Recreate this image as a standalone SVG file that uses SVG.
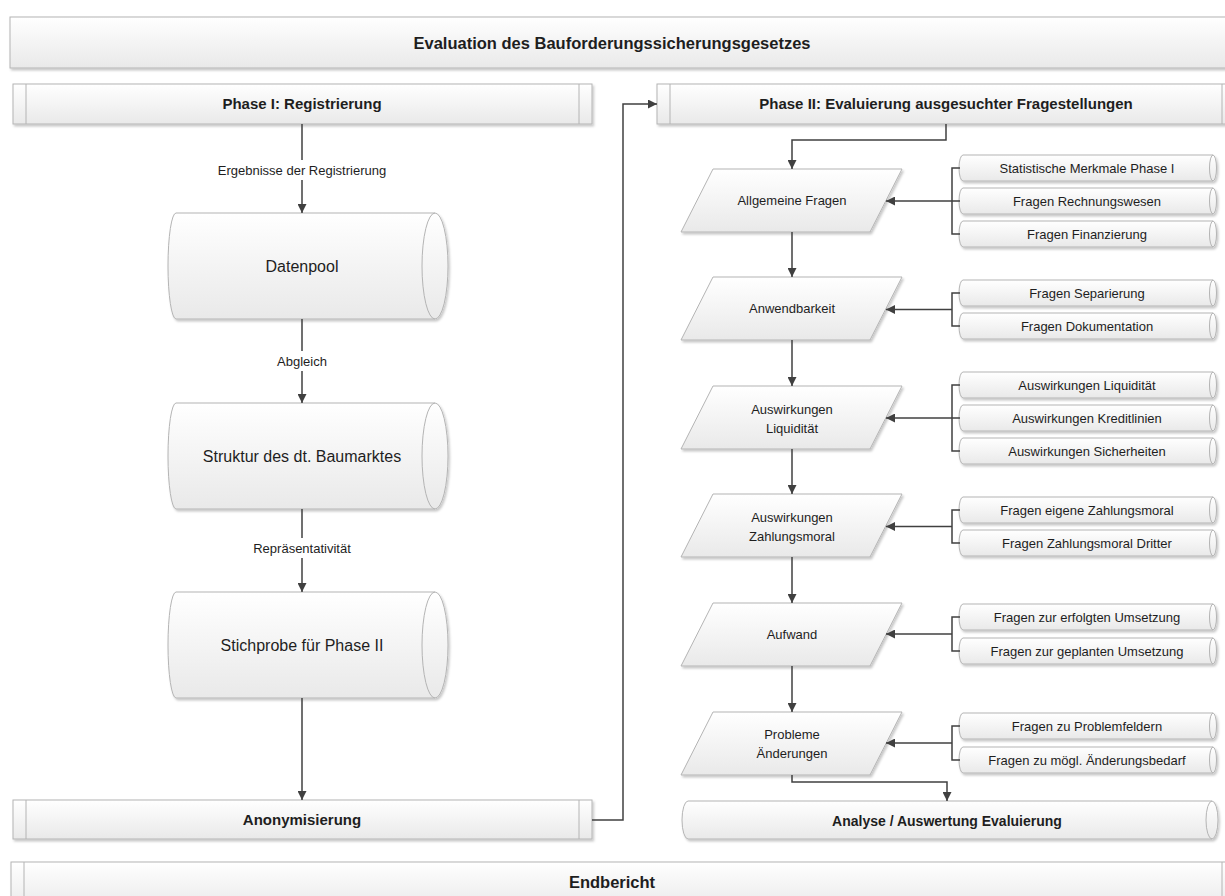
<svg xmlns="http://www.w3.org/2000/svg" width="1225" height="896" viewBox="0 0 1225 896">
<defs>
<linearGradient id="g" x1="0" y1="0" x2="0" y2="1">
<stop offset="0" stop-color="#ffffff"/>
<stop offset="1" stop-color="#e9e9e9"/>
</linearGradient>
<filter id="sh" x="-5%" y="-5%" width="110%" height="130%">
<feDropShadow dx="1.5" dy="2" stdDeviation="1" flood-color="#000" flood-opacity="0.22"/>
</filter>
<marker id="ah" viewBox="0 0 10 10" refX="10" refY="5" markerWidth="6" markerHeight="6" markerUnits="strokeWidth" orient="auto">
<path d="M0,0 L10,5 L0,10 z" fill="#404040"/>
</marker>
</defs>
<style>
.box{fill:url(#g);stroke:#b4b4b4;stroke-width:1;filter:url(#sh)}
.bar{stroke:#b4b4b4;stroke-width:1;fill:none}
.in{stroke:#b4b4b4;stroke-width:1;fill:none}
.c{fill:none;stroke:#404040;stroke-width:1.5}
.a{fill:none;stroke:#404040;stroke-width:1.5;marker-end:url(#ah)}
text{font-family:"Liberation Sans",Arial,sans-serif;fill:#1e1e1e;text-anchor:middle}
.h{font-weight:bold;font-size:15px}
.t{font-weight:bold;font-size:16.5px}
.n{font-size:13px}
.big{font-size:16px}
.lb{font-size:13px}
</style>

<g id="title">
<rect class="box" x="10" y="17" width="1230" height="51"/>
<text class="t" x="612" y="48.5">Evaluation des Bauforderungssicherungsgesetzes</text>
</g>

<g id="phase1">
<rect class="box" x="13" y="84" width="579" height="40"/>
<line class="bar" x1="26" y1="84" x2="26" y2="124"/>
<line class="bar" x1="579" y1="84" x2="579" y2="124"/>
<text class="h" x="302" y="109">Phase I: Registrierung</text>
</g>

<g id="phase2">
<rect class="box" x="657" y="84" width="580" height="40"/>
<line class="bar" x1="670" y1="84" x2="670" y2="124"/>
<line class="bar" x1="1222" y1="84" x2="1222" y2="124"/>
<text class="h" x="946" y="109">Phase II: Evaluierung ausgesuchter Fragestellungen</text>
</g>

<g id="datenpool">
<path class="box" d="M176,213 L435,213 A13,53 0 0 1 435,319 L176,319 A8,53 0 0 1 176,213 Z"/>
<path class="in" d="M435,213 A13,53 0 0 0 435,319"/>
<text class="big" x="302" y="271.5">Datenpool</text>
</g>

<g id="struktur">
<path class="box" d="M176,403 L435,403 A13,53 0 0 1 435,509 L176,509 A8,53 0 0 1 176,403 Z"/>
<path class="in" d="M435,403 A13,53 0 0 0 435,509"/>
<text class="big" x="302" y="461.5">Struktur des dt. Baumarktes</text>
</g>

<g id="stichprobe">
<path class="box" d="M176,592 L435,592 A13,53 0 0 1 435,698 L176,698 A8,53 0 0 1 176,592 Z"/>
<path class="in" d="M435,592 A13,53 0 0 0 435,698"/>
<text class="big" x="302" y="650.5">Stichprobe für Phase II</text>
</g>

<g id="anonymisierung">
<rect class="box" x="13" y="800" width="579" height="39"/>
<line class="bar" x1="26" y1="800" x2="26" y2="839"/>
<line class="bar" x1="579" y1="800" x2="579" y2="839"/>
<text class="h" x="302" y="825">Anonymisierung</text>
</g>

<g id="endbericht">
<rect class="box" x="11" y="862" width="1230" height="48"/>
<line class="bar" x1="24" y1="862" x2="24" y2="910"/>
<line class="bar" x1="1222" y1="862" x2="1222" y2="910"/>
<text class="t" x="612" y="888">Endbericht</text>
</g>

<g id="p1">
<polygon class="box" points="713,169 902,169 870,232 681,232"/>
<text class="n" x="792" y="205">Allgemeine Fragen</text>
</g>
<g id="p2">
<polygon class="box" points="713,277 902,277 870,340 681,340"/>
<text class="n" x="792" y="313">Anwendbarkeit</text>
</g>
<g id="p3">
<polygon class="box" points="713,386 902,386 870,449 681,449"/>
<text class="n" x="792" y="413.5">Auswirkungen</text>
<text class="n" x="792" y="432.5">Liquidität</text>
</g>
<g id="p4">
<polygon class="box" points="713,494 902,494 870,557 681,557"/>
<text class="n" x="792" y="521.5">Auswirkungen</text>
<text class="n" x="792" y="540.5">Zahlungsmoral</text>
</g>
<g id="p5">
<polygon class="box" points="713,603 902,603 870,666 681,666"/>
<text class="n" x="792" y="639">Aufwand</text>
</g>
<g id="p6">
<polygon class="box" points="713,712 902,712 870,775 681,775"/>
<text class="n" x="792" y="738.5">Probleme</text>
<text class="n" x="792" y="757.5">Änderungen</text>
</g>

<g id="b1a"><path class="box" d="M963,155 L1213,155 A3.5,13 0 0 1 1213,181 L963,181 A4,13 0 0 1 963,155 Z"/><path class="in" d="M1213,155 A3.5,13 0 0 0 1213,181"/><text class="n" x="1087" y="172.5">Statistische Merkmale Phase I</text></g>
<g id="b1b"><path class="box" d="M963,188 L1213,188 A3.5,13 0 0 1 1213,214 L963,214 A4,13 0 0 1 963,188 Z"/><path class="in" d="M1213,188 A3.5,13 0 0 0 1213,214"/><text class="n" x="1087" y="205.5">Fragen Rechnungswesen</text></g>
<g id="b1c"><path class="box" d="M963,221 L1213,221 A3.5,13 0 0 1 1213,247 L963,247 A4,13 0 0 1 963,221 Z"/><path class="in" d="M1213,221 A3.5,13 0 0 0 1213,247"/><text class="n" x="1087" y="238.5">Fragen Finanzierung</text></g>

<g id="b2a"><path class="box" d="M963,280 L1213,280 A3.5,13 0 0 1 1213,306 L963,306 A4,13 0 0 1 963,280 Z"/><path class="in" d="M1213,280 A3.5,13 0 0 0 1213,306"/><text class="n" x="1087" y="297.5">Fragen Separierung</text></g>
<g id="b2b"><path class="box" d="M963,313 L1213,313 A3.5,13 0 0 1 1213,339 L963,339 A4,13 0 0 1 963,313 Z"/><path class="in" d="M1213,313 A3.5,13 0 0 0 1213,339"/><text class="n" x="1087" y="330.5">Fragen Dokumentation</text></g>

<g id="b3a"><path class="box" d="M963,372 L1213,372 A3.5,13 0 0 1 1213,398 L963,398 A4,13 0 0 1 963,372 Z"/><path class="in" d="M1213,372 A3.5,13 0 0 0 1213,398"/><text class="n" x="1087" y="389.5">Auswirkungen Liquidität</text></g>
<g id="b3b"><path class="box" d="M963,405 L1213,405 A3.5,13 0 0 1 1213,431 L963,431 A4,13 0 0 1 963,405 Z"/><path class="in" d="M1213,405 A3.5,13 0 0 0 1213,431"/><text class="n" x="1087" y="422.5">Auswirkungen Kreditlinien</text></g>
<g id="b3c"><path class="box" d="M963,438 L1213,438 A3.5,13 0 0 1 1213,464 L963,464 A4,13 0 0 1 963,438 Z"/><path class="in" d="M1213,438 A3.5,13 0 0 0 1213,464"/><text class="n" x="1087" y="455.5">Auswirkungen Sicherheiten</text></g>

<g id="b4a"><path class="box" d="M963,497 L1213,497 A3.5,13 0 0 1 1213,523 L963,523 A4,13 0 0 1 963,497 Z"/><path class="in" d="M1213,497 A3.5,13 0 0 0 1213,523"/><text class="n" x="1087" y="514.5">Fragen eigene Zahlungsmoral</text></g>
<g id="b4b"><path class="box" d="M963,530 L1213,530 A3.5,13 0 0 1 1213,556 L963,556 A4,13 0 0 1 963,530 Z"/><path class="in" d="M1213,530 A3.5,13 0 0 0 1213,556"/><text class="n" x="1087" y="547.5">Fragen Zahlungsmoral Dritter</text></g>

<g id="b5a"><path class="box" d="M963,604 L1213,604 A3.5,13 0 0 1 1213,630 L963,630 A4,13 0 0 1 963,604 Z"/><path class="in" d="M1213,604 A3.5,13 0 0 0 1213,630"/><text class="n" x="1087" y="621.5">Fragen zur erfolgten Umsetzung</text></g>
<g id="b5b"><path class="box" d="M963,638 L1213,638 A3.5,13 0 0 1 1213,664 L963,664 A4,13 0 0 1 963,638 Z"/><path class="in" d="M1213,638 A3.5,13 0 0 0 1213,664"/><text class="n" x="1087" y="655.5">Fragen zur geplanten Umsetzung</text></g>

<g id="b6a"><path class="box" d="M963,713 L1213,713 A3.5,13 0 0 1 1213,739 L963,739 A4,13 0 0 1 963,713 Z"/><path class="in" d="M1213,713 A3.5,13 0 0 0 1213,739"/><text class="n" x="1087" y="730.5">Fragen zu Problemfeldern</text></g>
<g id="b6b"><path class="box" d="M963,747 L1213,747 A3.5,13 0 0 1 1213,773 L963,773 A4,13 0 0 1 963,747 Z"/><path class="in" d="M1213,747 A3.5,13 0 0 0 1213,773"/><text class="n" x="1087" y="764.5">Fragen zu mögl. Änderungsbedarf</text></g>

<g id="analyse">
<path class="box" d="M688,801 L1212,801 A6,19 0 0 1 1212,839 L688,839 A6,19 0 0 1 688,801 Z"/>
<path class="in" d="M1212,801 A6,19 0 0 0 1212,839"/>
<text class="h" x="947" y="825.5" style="font-size:14px">Analyse / Auswertung Evaluierung</text>
</g>

<g id="connectors">
<path class="a" d="M302,124 V213"/>
<path class="a" d="M302,319 V403"/>
<path class="a" d="M302,509 V592"/>
<path class="a" d="M302,698 V800"/>
<path class="a" d="M592,820 H623 V104 H657"/>
<path class="a" d="M946,124 V140 H792 V169"/>
<path class="a" d="M792,232 V277"/>
<path class="a" d="M792,340 V386"/>
<path class="a" d="M792,449 V494"/>
<path class="a" d="M792,557 V603"/>
<path class="a" d="M792,666 V712"/>
<path class="a" d="M792,775 V782 H947 V801"/>
<path class="c" d="M960,168 H952 V234 H960 M952,201 H960"/>
<path class="a" d="M952,201 H886"/>
<path class="c" d="M960,293 H952 V326 H960"/>
<path class="a" d="M952,309.5 H886"/>
<path class="c" d="M960,385 H952 V451 H960 M952,418 H960"/>
<path class="a" d="M952,418 H886"/>
<path class="c" d="M960,510 H952 V543 H960"/>
<path class="a" d="M952,526.5 H886"/>
<path class="c" d="M960,617 H952 V651 H960"/>
<path class="a" d="M952,634 H886"/>
<path class="c" d="M960,726 H952 V760 H960"/>
<path class="a" d="M952,743 H886"/>
</g>

<g id="labels">
<rect x="212" y="160" width="180" height="20" fill="#ffffff"/>
<text class="lb" x="302" y="174.5">Ergebnisse der Registrierung</text>
<rect x="272" y="351" width="60" height="20" fill="#ffffff"/>
<text class="lb" x="302" y="365.5">Abgleich</text>
<rect x="248" y="538" width="108" height="20" fill="#ffffff"/>
<text class="lb" x="302" y="552.5">Repräsentativität</text>
</g>
</svg>
